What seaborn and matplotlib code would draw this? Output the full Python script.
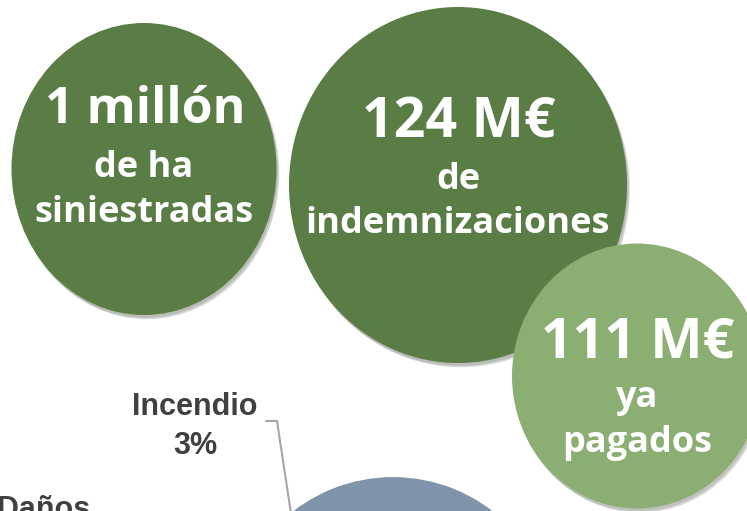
"""
Infografía: hectáreas siniestradas, indemnizaciones y reparto por causas
"""
import matplotlib.pyplot as plt
import matplotlib.patheffects as pe
from matplotlib.patches import Ellipse
import seaborn as sns

# datos
titulos = ['1 millón', '124 M€', '111 M€']
subtitulos = [['de ha', 'siniestradas'], ['de', 'indemnizaciones'], ['ya', 'pagados']]
causas = ['Incendio', 'Daños']
porcentajes = [3, 97]

sns.set_theme(style='white')
plt.rcParams['font.family'] = ['Open Sans', 'DejaVu Sans']

verde_osc, verde_cla, azul = '#5a7c45', '#8bae73', '#7f94aa'
colores = [verde_osc, verde_osc, verde_cla]

# centro, ancho, alto de cada círculo (px)
circulos = [((144, 169), 265, 292), ((458, 185), 338, 356), ((637, 376), 250, 265)]
# líneas base del texto (px)
bases = [(123, 177, 222), (138, 189, 233), (358, 407, 452)]
tam_tit = [36, 40, 40]

fig = plt.figure(figsize=(7.47, 5.11), dpi=100)
ax = fig.add_axes([0, 0, 1, 1])

# tarta (solo asoma por abajo)
cuñas, _ = ax.pie(porcentajes, colors=['#c9a66b', azul], startangle=215.6,
                  center=(393, 640), radius=165,
                  wedgeprops={'edgecolor': 'white', 'linewidth': 3})
for w in cuñas:
    w.set_path_effects([pe.SimplePatchShadow(offset=(1, -2), alpha=0.12), pe.Normal()])

sombra = [pe.SimplePatchShadow(offset=(2, -3), alpha=0.18),
          pe.SimplePatchShadow(offset=(1, -2), alpha=0.15), pe.Normal()]
for (c, w, h), col, tit, sub, b, ft in zip(circulos, colores, titulos, subtitulos, bases, tam_tit):
    e = Ellipse(c, w, h, facecolor=col, edgecolor='none', zorder=3)
    e.set_path_effects(sombra)
    ax.add_patch(e)
    ax.text(c[0] + 1, b[0], tit, color='white', fontsize=ft, fontweight='bold',
            ha='center', va='baseline', zorder=4)
    ax.text(c[0], b[1], sub[0], color='white', fontsize=26, fontweight='bold',
            ha='center', va='baseline', zorder=4)
    ax.text(c[0], b[2], sub[1], color='white', fontsize=26, fontweight='bold',
            ha='center', va='baseline', zorder=4)

# etiquetas de la tarta
fuente = ['Liberation Sans', 'DejaVu Sans']
ax.text(195, 415, causas[0], color='#404040', fontsize=22, fontweight='bold',
        family=fuente, ha='center', va='baseline')
ax.text(195, 454, f'{porcentajes[0]}%', color='#404040', fontsize=22, fontweight='bold',
        family=fuente, ha='center', va='baseline')
ax.text(-3, 518, causas[1], color='#404040', fontsize=22, fontweight='bold',
        family=fuente, ha='left', va='baseline')
ax.plot([266, 277, 292], [421, 421, 520], color='#a6a6a6', lw=1.5, zorder=2)

ax.set_xlim(0, 747)
ax.set_ylim(511, 0)
ax.set_aspect('auto')
ax.axis('off')

plt.savefig('out.png', dpi=100)
